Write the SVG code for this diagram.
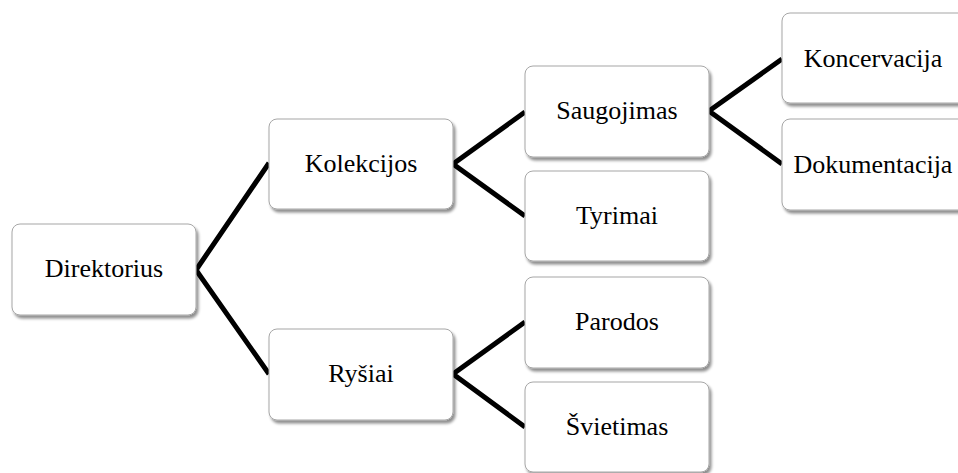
<svg xmlns="http://www.w3.org/2000/svg" width="958" height="473" viewBox="0 0 958 473">
<style>
.box{fill:#ffffff;stroke:#a6a6a6;stroke-width:1;filter:url(#sh)}
.lbl{font-family:"Liberation Serif","Times New Roman",serif;font-size:26px;fill:#000;text-anchor:middle}
.conn{stroke:#000;stroke-width:5;fill:none;stroke-linejoin:miter}
</style>
<defs>
<filter id="sh" x="-10%" y="-10%" width="125%" height="130%">
<feGaussianBlur in="SourceAlpha" stdDeviation="1.8"/>
<feOffset dx="1.5" dy="3" result="b"/>
<feComponentTransfer><feFuncA type="linear" slope="0.45"/></feComponentTransfer>
<feMerge><feMergeNode/><feMergeNode in="SourceGraphic"/></feMerge>
</filter>
</defs>
<rect width="958" height="473" fill="#ffffff"/>
<g id="connectors">
<polyline class="conn" points="269,163 196,270 269,374"/>
<polyline class="conn" points="525,112 453,164 525,216"/>
<polyline class="conn" points="525,322 453,374 525,427"/>
<polyline class="conn" points="782,59 709,111 782,164"/>
</g>
<g id="direktorius"><rect class="box" x="12" y="224" width="184" height="91" rx="8"/><text class="lbl" x="104" y="277">Direktorius</text></g>
<g id="kolekcijos"><rect class="box" x="269" y="119" width="184" height="90" rx="8"/><text class="lbl" x="361" y="172">Kolekcijos</text></g>
<g id="rysiai"><rect class="box" x="269" y="329" width="184" height="91" rx="8"/><text class="lbl" x="361" y="382">Ryšiai</text></g>
<g id="saugojimas"><rect class="box" x="525" y="66" width="184" height="91" rx="8"/><text class="lbl" x="617" y="119">Saugojimas</text></g>
<g id="tyrimai"><rect class="box" x="525" y="171" width="184" height="90" rx="8"/><text class="lbl" x="617" y="224">Tyrimai</text></g>
<g id="parodos"><rect class="box" x="525" y="277" width="184" height="91" rx="8"/><text class="lbl" x="617" y="330">Parodos</text></g>
<g id="svietimas"><rect class="box" x="525" y="382" width="184" height="90" rx="8"/><text class="lbl" x="617" y="435">Švietimas</text></g>
<g id="koncervacija"><rect class="box" x="782" y="13" width="184" height="90" rx="8"/><text class="lbl" x="873" y="67">Koncervacija</text></g>
<g id="dokumentacija"><rect class="box" x="782" y="119" width="184" height="91" rx="8"/><text class="lbl" x="873" y="173">Dokumentacija</text></g>
</svg>
